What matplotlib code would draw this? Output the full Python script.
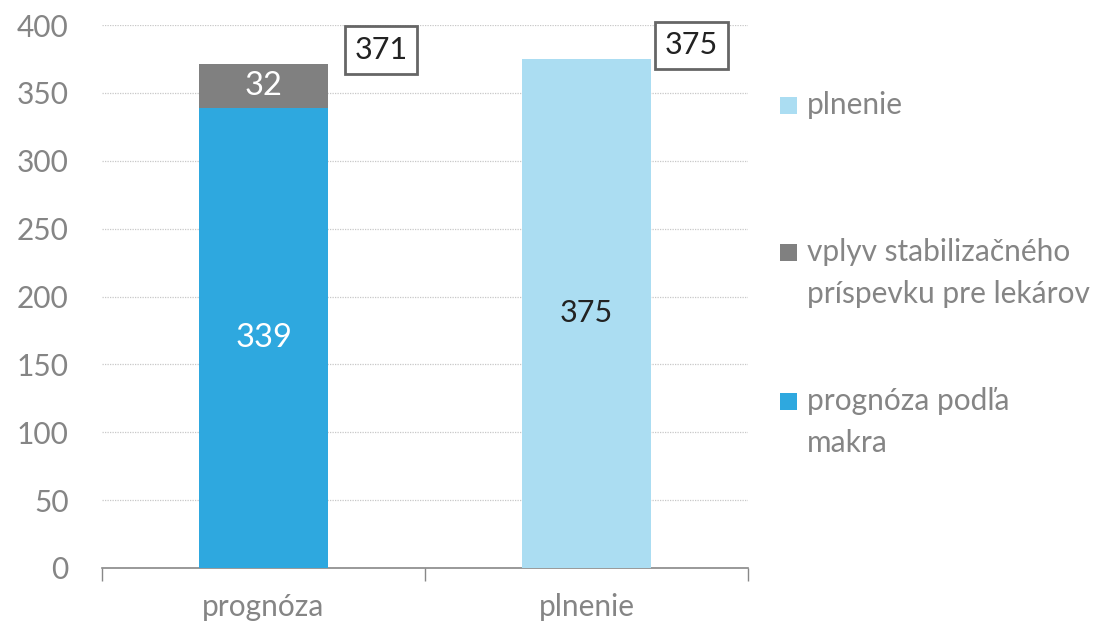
import matplotlib
matplotlib.use("Agg")
import matplotlib.pyplot as plt
from matplotlib.patches import Rectangle

plt.rcParams['font.family'] = ['Lato', 'DejaVu Sans']

categories = ["prognóza", "plnenie"]
base_values = [339, 0]        # prognóza podľa makra
stab_values = [32, 0]         # vplyv stabilizačného príspevku pre lekárov
actual_values = [0, 375]      # plnenie
totals = [371, 375]

c_blue = "#2EA8DF"
c_grey = "#808080"
c_light = "#ABDDF2"
txt_grey = "#858585"
fs = 21.5

fig = plt.figure(figsize=(11.10, 6.27), dpi=100)
ax = fig.add_axes([0.0919, 0.0941, 0.5820, 0.8660])

x = list(range(len(categories)))
w = 0.40
ax.bar(x, base_values, width=w, color=c_blue, zorder=3)
ax.bar(x, stab_values, width=w, bottom=base_values, color=c_grey, zorder=3)
ax.bar(x, actual_values, width=w, color=c_light, zorder=3)

# labels inside segments
ax.text(0, base_values[0] / 2, str(base_values[0]), ha="center", va="center",
        color="white", fontsize=23.5)
ax.text(0, base_values[0] + stab_values[0] / 2, str(stab_values[0]), ha="center",
        va="center", color="white", fontsize=23.5)
ax.text(1, actual_values[1] / 2, str(actual_values[1]), ha="center", va="center",
        color="#222222", fontsize=22)

# boxed totals
box = dict(boxstyle="square,pad=0.32", fc="white", ec="#666666", lw=2.0)
ax.text(0 + 0.364, totals[0] + 10.5, str(totals[0]), ha="center", va="center",
        fontsize=22, color="#222222", bbox=box, zorder=5)
ax.text(1 + 0.325, totals[1] + 10, str(totals[1]), ha="center", va="center",
        fontsize=22, color="#222222", bbox=box, zorder=5)

ax.set_xlim(-0.5, 1.5)
ax.set_ylim(0, 400)
ax.set_yticks(range(0, 401, 50))
ax.set_xticks(x)
ax.set_xticklabels(categories)
ax.set_xticks([-0.5, 0.5, 1.5], minor=True)
ax.tick_params(axis="x", which="major", length=0, pad=18, labelsize=fs, labelcolor=txt_grey)
ax.tick_params(axis="x", which="minor", length=9, width=1, color="#888888", direction="out")
ax.tick_params(axis="y", length=0, pad=24, labelsize=fs, labelcolor=txt_grey)

ax.yaxis.grid(True, linestyle=(0, (1, 1)), color="#C8C8C8", lw=0.9, zorder=0)
for s in ["top", "right", "left"]:
    ax.spines[s].set_visible(False)
ax.spines["bottom"].set_color("#888888")
ax.spines["bottom"].set_linewidth(1.2)

# legend
def px(xp, yp):
    return xp / 1110, 1 - yp / 627

legend_items = [
    (c_light, ["plnenie"], 105),
    (c_grey, ["vplyv stabilizačného", "príspevku pre lekárov"], 252),
    (c_blue, ["prognóza podľa", "makra"], 401),
]
for col, lines, yc in legend_items:
    x0, y0 = px(780, yc + 8.5)
    fig.patches.append(Rectangle((x0, y0), 17 / 1110, 17 / 627, transform=fig.transFigure,
                                 fc=col, ec="none"))
    for i, line in enumerate(lines):
        tx, ty = px(807, yc + 42 * i)
        fig.text(tx, ty, line, ha="left", va="center", fontsize=fs, color=txt_grey)

fig.savefig("out.png", dpi=100, facecolor="white")
